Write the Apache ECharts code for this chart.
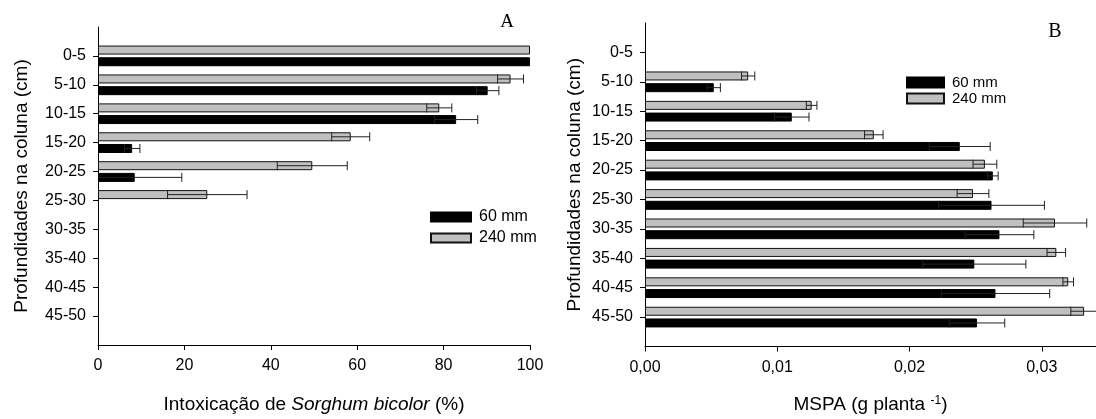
<!DOCTYPE html>
<html>
<head>
<meta charset="UTF-8">
<title>Intoxicação e MSPA por profundidade</title>
<script src="https://cdn.jsdelivr.net/npm/echarts@6/dist/echarts.min.js"></script>
<style>
	body { margin: 0; background: #fff; }
	#main { width: 1096px; height: 419px; }
</style>
</head>
<body>
<div id="main"></div>
<script>
	// profundidades na coluna (cm)
	var profundidades = ['0-5', '5-10', '10-15', '15-20', '20-25', '25-30', '30-35', '35-40', '40-45', '45-50'];

	// A - Intoxicação de Sorghum bicolor (%)
	var intox60 = [100, 90.2, 82.9, 7.9, 8.5, 0, 0, 0, 0, 0];
	var intox60Erro = [0, 2.6, 5.0, 1.8, 10.9, 0, 0, 0, 0, 0];
	var intox240 = [100, 95.5, 79.0, 58.5, 49.6, 25.3, 0, 0, 0, 0];
	var intox240Erro = [0, 3.0, 2.9, 4.4, 8.1, 9.2, 0, 0, 0, 0];

	// B - MSPA (g planta-1)
	var mspa60 = [0, 0.0052, 0.0111, 0.0238, 0.0263, 0.0262, 0.0268, 0.0249, 0.0265, 0.0251];
	var mspa60Erro = [0, 0.0005, 0.0013, 0.0023, 0.0004, 0.0040, 0.0026, 0.0039, 0.0041, 0.0021];
	var mspa240 = [0, 0.0078, 0.0126, 0.0173, 0.0257, 0.0248, 0.0310, 0.0311, 0.0320, 0.0332];
	var mspa240Erro = [0, 0.0005, 0.0004, 0.0007, 0.0009, 0.0012, 0.0024, 0.0007, 0.0004, 0.0010];

	var ticksA = [0, 20, 40, 60, 80, 100];
	var ticksB = [0, 0.01, 0.02, 0.03];

	var fonte = 'Liberation Sans, Arial, sans-serif';
	var myChart = echarts.init(document.getElementById('main'));

	// uma categoria vazia em cada ponta, para sobrar meia faixa em cima e embaixo
	var eixoY = [''].concat(profundidades, ['']);
	function pad(arr) {
		// valor zero = sem barra
		return [null].concat(arr.map(function (v) { return v ? v : null; }), [null]);
	}

	function eixoCat(idx) {
		return {
			type: 'category', gridIndex: idx, inverse: true, boundaryGap: false,
			data: eixoY,
			axisLine: { lineStyle: { color: '#000', width: 1 } },
			axisTick: { length: 5, lineStyle: { color: '#000' }, interval: function (i) { return i > 0 && i < eixoY.length - 1; } },
			axisLabel: { interval: 0, color: '#000', fontSize: 16, fontFamily: fonte, margin: 12 },
			name: 'Profundidades na coluna (cm)', nameLocation: 'middle', nameRotate: 90,
			nameGap: idx == 0 ? 67 : 61,
			nameTextStyle: { color: '#000', fontSize: 19, fontFamily: fonte }
		};
	}

	function barras(nome, idx, vals, cor, borda) {
		return {
			name: nome, type: 'bar', xAxisIndex: idx, yAxisIndex: idx,
			data: pad(vals), barWidth: 9, barGap: '30%',
			itemStyle: { color: cor, borderColor: borda, borderWidth: 1 },
			emphasis: { disabled: true }
		};
	}

	// barra de erro: linha de (v - e) a (v + e) com traço nas pontas; nao passa do zero
	function erros(idx, vals, errs, desl) {
		return {
			type: 'custom', xAxisIndex: idx, yAxisIndex: idx, z: 5, silent: true,
			data: vals.map(function (v, i) { return [v, i + 1, errs[i]]; }),
			renderItem: function (params, api) {
				var e = api.value(2);
				if (!e) return;
				var v = api.value(0), c = api.value(1);
				var baixo = Math.max(v - e, 0);
				var p0 = api.coord([baixo, c]), p1 = api.coord([v + e, c]);
				var y = p0[1] + desl, h = 4.5;
				var st = { stroke: '#222', lineWidth: 1 };
				var partes = [
					{ type: 'line', shape: { x1: p0[0], y1: y, x2: p1[0], y2: y }, style: st },
					{ type: 'line', shape: { x1: p1[0], y1: y - h, x2: p1[0], y2: y + h }, style: st }
				];
				if (v - e > 0) {
					partes.push({ type: 'line', shape: { x1: p0[0], y1: y - h, x2: p0[0], y2: y + h }, style: st });
				}
				return { type: 'group', children: partes };
			}
		};
	}

	var option = {
		animation: false,
		grid: [
			{ left: 98, top: 27, width: 432, height: 325 },
			{ left: 645, top: 23, width: 451, height: 332 }
		],
		legend: [
			{
				data: ['60 mm', '240 mm'], orient: 'vertical', left: 430, top: 209, padding: 0,
				icon: 'rect', itemWidth: 40, itemHeight: 9, itemGap: 5, selectedMode: false,
				textStyle: { color: '#000', fontSize: 16, fontFamily: fonte, padding: [0, 0, 0, 3] }
			},
			{
				data: ['60 mm', '240 mm'], orient: 'vertical', left: 906, top: 75, padding: 0,
				icon: 'rect', itemWidth: 37, itemHeight: 10, itemGap: 1, selectedMode: false,
				textStyle: { color: '#000', fontSize: 15, fontFamily: fonte, padding: [0, 0, 0, 3] }
			}
		],
		xAxis: [
			{
				type: 'value', gridIndex: 0, min: 0, max: 100, interval: 20,
				axisLine: { show: true, lineStyle: { color: '#000' } },
				axisTick: { show: true, length: 5, customValues: ticksA, lineStyle: { color: '#000' } },
				axisLabel: { customValues: ticksA, color: '#000', fontSize: 16, fontFamily: fonte, margin: 13 },
				splitLine: { show: false },
				name: 'Intoxicação de {i|Sorghum bicolor} (%)', nameLocation: 'middle', nameGap: 50,
				nameTextStyle: { color: '#000', fontSize: 19, fontFamily: fonte, rich: { i: { fontStyle: 'italic', fontSize: 19, fontFamily: fonte, color: '#000' } } }
			},
			{
				type: 'value', gridIndex: 1, min: 0, max: 0.0341,
				axisLine: { show: true, lineStyle: { color: '#000' } },
				axisTick: { show: true, length: 5, customValues: ticksB, lineStyle: { color: '#000' } },
				axisLabel: {
					customValues: ticksB, color: '#000', fontSize: 16, fontFamily: fonte, margin: 13,
					formatter: function (v) { return v.toFixed(2).replace('.', ','); }
				},
				splitLine: { show: false },
				name: '{n|MSPA (g planta }{s|-1}{n|)}', nameLocation: 'middle', nameGap: 48,
				nameTextStyle: {
					color: '#000', fontSize: 19, fontFamily: fonte,
					rich: {
						n: { fontSize: 19, fontFamily: fonte, color: '#000' },
						s: { fontSize: 12, fontFamily: fonte, color: '#000', verticalAlign: 'top', padding: [0, 0, 8, 0] }
					}
				}
			}
		],
		yAxis: [eixoCat(0), eixoCat(1)],
		graphic: [
			{ type: 'text', x: 507, y: 22, style: { text: 'A', font: '19px "Liberation Serif", serif', fill: '#000', align: 'center', verticalAlign: 'middle' } },
			{ type: 'text', x: 1055, y: 32, style: { text: 'B', font: '20px "Liberation Serif", serif', fill: '#000', align: 'center', verticalAlign: 'middle' } }
		],
		series: [
			barras('240 mm', 0, intox240, '#c0c0c0', '#111'),
			barras('60 mm', 0, intox60, '#000', '#000'),
			barras('240 mm', 1, mspa240, '#c0c0c0', '#111'),
			barras('60 mm', 1, mspa60, '#000', '#000'),
			erros(0, intox240, intox240Erro, -5.85),
			erros(0, intox60, intox60Erro, 5.85),
			erros(1, mspa240, mspa240Erro, -5.85),
			erros(1, mspa60, mspa60Erro, 5.85)
		]
	};

	myChart.setOption(option);
</script>
</body>
</html>
